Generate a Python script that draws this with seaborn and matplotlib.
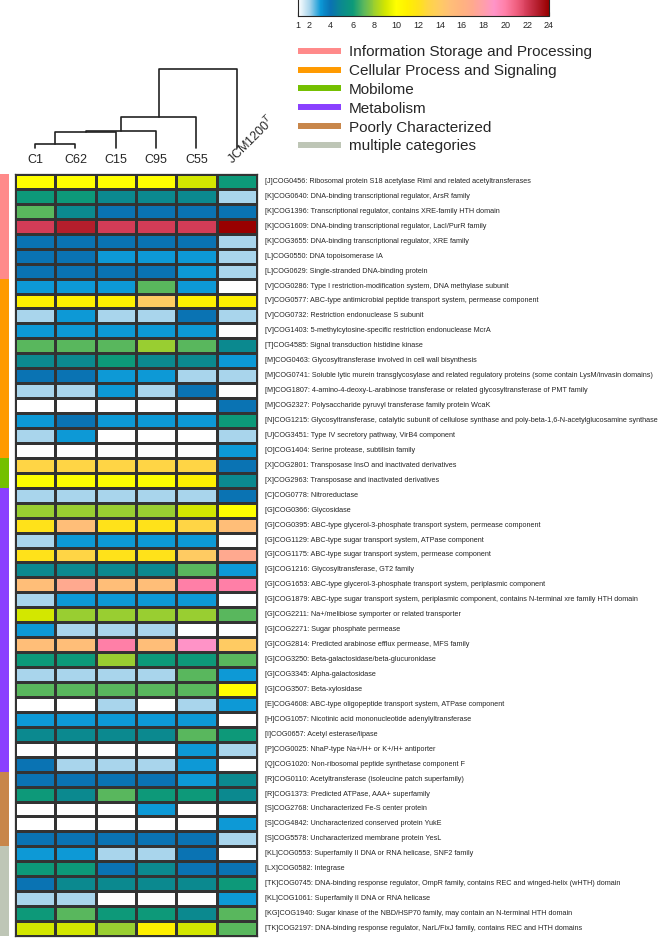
import numpy as np
import pandas as pd
import matplotlib
matplotlib.use('Agg')
import matplotlib.pyplot as plt
import seaborn as sns
from matplotlib.colors import LinearSegmentedColormap, ListedColormap
from matplotlib.lines import Line2D

# data
strains = ['C1', 'C62', 'C15', 'C95', 'C55', 'JCM1200T']

cogs = [
    '[J]COG0456: Ribosomal protein S18 acetylase RimI and related acetyltransferases',
    '[K]COG0640: DNA-binding transcriptional regulator, ArsR family',
    '[K]COG1396: Transcriptional regulator, contains XRE-family HTH domain',
    '[K]COG1609: DNA-binding transcriptional regulator, LacI/PurR family',
    '[K]COG3655: DNA-binding transcriptional regulator, XRE family',
    '[L]COG0550: DNA topoisomerase IA',
    '[L]COG0629: Single-stranded DNA-binding protein',
    '[V]COG0286: Type I restriction-modification system, DNA methylase subunit',
    '[V]COG0577: ABC-type antimicrobial peptide transport system, permease component',
    '[V]COG0732: Restriction endonuclease S subunit',
    '[V]COG1403: 5-methylcytosine-specific restriction endonuclease McrA',
    '[T]COG4585: Signal transduction histidine kinase',
    '[M]COG0463: Glycosyltransferase involved in cell wall bisynthesis',
    '[M]COG0741: Soluble lytic murein transglycosylase and related regulatory proteins (some contain LysM/invasin domains)',
    '[M]COG1807: 4-amino-4-deoxy-L-arabinose transferase or related glycosyltransferase of PMT family',
    '[M]COG2327: Polysaccharide pyruvyl transferase family protein WcaK',
    '[N]COG1215: Glycosyltransferase, catalytic subunit of cellulose synthase and poly-beta-1,6-N-acetylglucosamine synthase',
    '[U]COG3451: Type IV secretory pathway, VirB4 component',
    '[O]COG1404: Serine protease, subtilisin family',
    '[X]COG2801: Transposase InsO and inactivated derivatives',
    '[X]COG2963: Transposase and inactivated derivatives',
    '[C]COG0778: Nitroreductase',
    '[G]COG0366: Glycosidase',
    '[G]COG0395: ABC-type glycerol-3-phosphate transport system, permease component',
    '[G]COG1129: ABC-type sugar transport system, ATPase component',
    '[G]COG1175: ABC-type sugar transport system, permease component',
    '[G]COG1216: Glycosyltransferase, GT2 family',
    '[G]COG1653: ABC-type glycerol-3-phosphate transport system, periplasmic component',
    '[G]COG1879: ABC-type sugar transport system, periplasmic component, contains N-terminal xre family HTH domain',
    '[G]COG2211: Na+/melibiose symporter or related transporter',
    '[G]COG2271: Sugar phosphate permease',
    '[G]COG2814: Predicted arabinose efflux permease, MFS family',
    '[G]COG3250: Beta-galactosidase/beta-glucuronidase',
    '[G]COG3345: Alpha-galactosidase',
    '[G]COG3507: Beta-xylosidase',
    '[E]COG4608: ABC-type oligopeptide transport system, ATPase component',
    '[H]COG1057: Nicotinic acid mononucleotide adenylyltransferase',
    '[I]COG0657: Acetyl esterase/lipase',
    '[P]COG0025: NhaP-type Na+/H+ or K+/H+ antiporter',
    '[Q]COG1020: Non-ribosomal peptide synthetase component F',
    '[R]COG0110: Acetyltransferase (isoleucine patch superfamily)',
    '[R]COG1373: Predicted ATPase, AAA+ superfamily',
    '[S]COG2768: Uncharacterized Fe-S center protein',
    '[S]COG4842: Uncharacterized conserved protein YukE',
    '[S]COG5578: Uncharacterized membrane protein YesL',
    '[KL]COG0553: Superfamily II DNA or RNA helicase, SNF2 family',
    '[LX]COG0582: Integrase',
    '[TK]COG0745: DNA-binding response regulator, OmpR family, contains REC and winged-helix (wHTH) domain',
    '[KL]COG1061: Superfamily II DNA or RNA helicase',
    '[KG]COG1940: Sugar kinase of the NBD/HSP70 family, may contain an N-terminal HTH domain',
    '[TK]COG2197: DNA-binding response regulator, NarL/FixJ family, contains REC and HTH domains',
]

counts = [
    [10, 10, 10, 10, 9, 6],
    [6, 6, 5, 5, 5, 2],
    [7, 5, 4, 4, 4, 4],
    [22, 23, 22, 22, 22, 24],
    [4, 4, 4, 4, 4, 2],
    [4, 4, 3, 3, 3, 2],
    [4, 4, 4, 4, 3, 2],
    [3, 3, 3, 7, 3, 1],
    [11, 11, 11, 14, 11, 11],
    [2, 3, 2, 2, 4, 2],
    [3, 3, 3, 3, 3, 1],
    [7, 7, 7, 8, 7, 5],
    [5, 5, 6, 5, 5, 3],
    [4, 4, 3, 3, 2, 2],
    [2, 2, 3, 2, 4, 1],
    [1, 1, 1, 1, 1, 4],
    [3, 4, 3, 3, 3, 6],
    [2, 3, 1, 1, 1, 2],
    [1, 1, 1, 1, 1, 3],
    [13, 13, 13, 13, 13, 4],
    [10, 10, 10, 10, 11, 5],
    [2, 2, 2, 2, 2, 4],
    [8, 8, 8, 8, 9, 10],
    [12, 15, 12, 12, 13, 15],
    [2, 3, 3, 3, 3, 1],
    [12, 13, 12, 12, 14, 17],
    [5, 5, 5, 5, 7, 3],
    [15, 17, 15, 15, 20, 20],
    [2, 3, 3, 3, 3, 1],
    [9, 8, 8, 8, 8, 7],
    [3, 2, 2, 2, 1, 1],
    [15, 15, 20, 15, 19, 14],
    [6, 6, 8, 6, 6, 7],
    [2, 2, 2, 2, 7, 3],
    [7, 7, 7, 7, 7, 10],
    [1, 1, 2, 1, 2, 3],
    [3, 3, 3, 3, 3, 1],
    [5, 5, 5, 5, 7, 6],
    [1, 1, 1, 1, 3, 2],
    [4, 2, 2, 2, 3, 1],
    [4, 4, 4, 4, 3, 5],
    [6, 5, 7, 6, 6, 5],
    [1, 1, 1, 3, 1, 1],
    [1, 1, 1, 1, 1, 3],
    [4, 4, 4, 4, 4, 2],
    [3, 3, 2, 2, 4, 1],
    [6, 6, 4, 5, 4, 4],
    [4, 5, 5, 5, 5, 6],
    [2, 2, 1, 1, 1, 3],
    [6, 7, 6, 6, 5, 7],
    [9, 9, 8, 11, 9, 7],
]

categories = ['Information Storage and Processing', 'Cellular Process and Signaling',
              'Mobilome', 'Metabolism', 'Poorly Characterized', 'multiple categories']
category_colors = ['#ff8a8a', '#ff9a00', '#74c000', '#8a40ff', '#c8864a', '#bec6b6']
category_sizes = [7, 12, 2, 19, 5, 6]
row_category = [c for c, n in zip(categories, category_sizes) for _ in range(n)]

# one colour per count 1..24
heat_colors = ['#ffffff', '#a8d5ec', '#0b98d6', '#0a72b2', '#0b8a8e', '#0d9a78',
               '#5db85c', '#9ccf2e', '#d2e600', '#ffff00', '#fff000', '#ffe21a',
               '#ffd545', '#ffcb62', '#ffbe78', '#ffb37f', '#ffa98e', '#ffa0a8',
               '#ff94c8', '#ff80a8', '#f06080', '#d43c58', '#b41e2c', '#990000']
cbar_ticks = [1, 2, 4, 6, 8, 10, 12, 14, 16, 18, 20, 22, 24]

# dendrogram: (node a, node b, height); leaves 0..5 in column order
merges = [(0, 1, 4), (6, 2, 16), (7, 3, 17.5), (8, 4, 31), (9, 5, 79)]

sns.set_style('white')
plt.rcParams['font.family'] = ['Liberation Sans', 'DejaVu Sans']

W, H = 660, 943
fig = plt.figure(figsize=(W / 100, H / 100), dpi=100)


def px_axes(x0, y0, x1, y1):
    return fig.add_axes([x0 / W, 1 - y1 / H, (x1 - x0) / W, (y1 - y0) / H])


ax_heat = px_axes(15, 174, 257, 936)
ax_side = px_axes(0, 174, 9, 936)
ax_dend = px_axes(15, 69, 257, 148)
ax_cbar = px_axes(298, -2, 549, 16)

cmap = LinearSegmentedColormap.from_list('cog', heat_colors)
df = pd.DataFrame(counts, index=cogs, columns=strains)
sns.heatmap(df, ax=ax_heat, cmap=cmap, vmin=1, vmax=24, cbar=False,
            linewidths=0.75, linecolor='#333333')
for sp in ax_heat.spines.values():
    sp.set_visible(True)
    sp.set_linewidth(0.9)
    sp.set_color('#333333')

ax_heat.yaxis.tick_right()
ax_heat.set_yticks(np.arange(len(cogs)) + 0.5)
ax_heat.set_yticklabels(cogs, rotation=0, fontsize=5.2, va='center')
ax_heat.tick_params(axis='y', length=0, pad=5.5)
ax_heat.xaxis.tick_top()
ax_heat.set_xticks(np.arange(len(strains)) + 0.5)
ax_heat.set_xticklabels(strains[:-1] + [''], rotation=0, fontsize=9)
ax_heat.tick_params(axis='x', length=0, pad=6)
ax_heat.set_xlabel('')
ax_heat.set_ylabel('')
ax_heat.text(5.4, -0.6, 'JCM1200$^{T}$', rotation=45, ha='left', va='baseline',
             rotation_mode='anchor', fontsize=9)

# category side bar
codes = np.array([categories.index(c) for c in row_category])[:, None]
sns.heatmap(codes, ax=ax_side, cmap=ListedColormap(category_colors),
            vmin=-0.5, vmax=len(categories) - 0.5, cbar=False,
            xticklabels=False, yticklabels=False)

# dendrogram
pos = {i: i + 0.5 for i in range(len(strains))}
hgt = {i: 0.0 for i in range(len(strains))}
node = len(strains)
for a, b, h in merges:
    ax_dend.plot([pos[a], pos[a], pos[b], pos[b]], [hgt[a], h, h, hgt[b]],
                 color='#222222', lw=1.2, clip_on=False)
    pos[node] = (pos[a] + pos[b]) / 2
    hgt[node] = h
    node += 1
ax_dend.set_xlim(0, len(strains))
ax_dend.set_ylim(0, max(m[2] for m in merges))
ax_dend.axis('off')

# colour bar
sm = plt.cm.ScalarMappable(cmap=cmap, norm=plt.Normalize(1, 24))
cb = fig.colorbar(sm, cax=ax_cbar, orientation='horizontal', ticks=cbar_ticks)
cb.ax.tick_params(direction='in', length=3, width=0.8, labelsize=6.5, pad=3.5)
cb.outline.set_linewidth(0.8)

# category legend
handles = [Line2D([0], [0], color=c, lw=4.3, solid_capstyle='butt') for c in category_colors]
fig.legend(handles, categories, loc='upper left', bbox_to_anchor=(298 / W, 1 - 45 / H),
           frameon=False, fontsize=11, handlelength=2.8, handletextpad=0.55,
           labelspacing=0.32, borderpad=0, borderaxespad=0)

fig.savefig('out.png', dpi=100)
